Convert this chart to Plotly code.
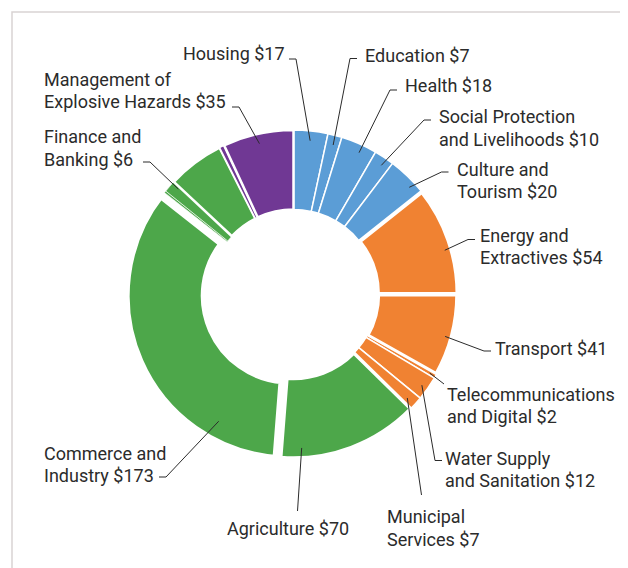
import math
import plotly.graph_objects as go

# ---------------- data ----------------
sectors = [
    "Housing", "Education", "Health", "Social Protection\nand Livelihoods",
    "Culture and\nTourism", "Energy and\nExtractives", "Transport",
    "Telecommunications\nand Digital", "Water Supply\nand Sanitation",
    "Municipal\nServices", "Agriculture", "Commerce and\nIndustry",
    "Unlabelled green (small)", "Finance and\nBanking", "Unlabelled green",
    "Unlabelled purple", "Management of\nExplosive Hazards",
]
values = [17, 7, 18, 10, 20, 54, 41, 2, 12, 7, 70, 173, 1, 6, 28, 2.5, 35]
groups = ["social", "social", "social", "social", "social",
          "infra", "infra", "infra", "infra", "infra",
          "productive", "productive", "productive", "productive", "productive",
          "cross", "cross"]
labelled = [True, True, True, True, True, True, True, True, True, True,
            True, True, False, True, False, False, True]

# ---------------- style / layout ----------------
WIN_W, WIN_H = 628, 568
OFF = 8                      # default page margin around the figure
W, H = WIN_W - OFF, WIN_H - OFF
CX, CY, R = 293.5, 294.0, 164.0
group_colors = {"social": "#5B9DD6", "infra": "#F08232",
                "productive": "#4DA74A", "cross": "#703894"}
line_widths = [1.5, 1.5, 1.5, 1.5, 1.5, 4, 4.5, 1.5, 1.5, 1.5,
               3.5, 8.5, 0.6, 0.6, 2.5, 1.5, 2.5]
pulls = [0, 0, 0, 0, 0, 0, 0, 0, 0, 0, 0, 0.027, 0, 0, 0, 0, 0]
TEXT = "#2b2b2b"
FONT = "Roboto"
FS = 18
LINE_H = 22.5

# label layout (window pixels): index -> (anchor side, text x, first-line y, elbow, tick end, pos in slice, radius frac)
label_layout = {
    0: ("right", 286, 53, (296, 59), (289, 59), 0.51, 0.94),
    1: ("left", 364, 55, (350, 58.5), (357, 58.5), 0.55, 0.94),
    2: ("left", 404, 86, (390, 90), (397, 90), 0.60, 0.95),
    3: ("left", 438, 116.5, (424, 120), (431, 120), 0.60, 0.95),
    4: ("left", 456, 169, (441.5, 172), (448.5, 172), 0.71, 0.96),
    5: ("left", 479, 235, (468, 239.5), (475, 239.5), 0.58, 0.96),
    6: ("left", 494, 348, (484, 351), (491, 351), 0.53, 0.96),
    7: ("left", 446, 394, (444, 384), None, 0.50, 0.96),
    8: ("left", 444, 458, (435, 460.5), (442, 460.5), 0.53, 0.96),
    9: ("left", 386, 516.5, (421.5, 495), None, 0.60, 0.94),
    10: ("center", 288, 528, (297.5, 511), None, 0.85, 0.94),
    11: ("left", 43, 453, (166, 477), (159, 477), 0.21, 0.90),
    13: ("left", 43, 137, (150, 162), (143, 162), 0.80, 0.95),
    16: ("left", 43, 79, (239, 107), (232, 107), 0.49, 0.94),
}


def px(x):
    return (x - OFF) / W


def py(y):
    return 1 - (y - OFF) / H


half = R * (1 + max(pulls))
domain_x = [px(CX - half), px(CX + half)]
domain_y = [py(CY + half), py(CY - half)]

fig = go.Figure(go.Pie(
    labels=[s.replace("\n", " ") for s in sectors],
    values=values,
    sort=False,
    direction="clockwise",
    rotation=0,
    hole=0.515,
    pull=pulls,
    textinfo="none",
    hoverinfo="label+value",
    marker=dict(colors=[group_colors[g] for g in groups],
                line=dict(color="white", width=line_widths)),
    domain=dict(x=domain_x, y=domain_y),
    showlegend=False,
))

total = sum(values)
cum = [0]
for v in values:
    cum.append(cum[-1] + v)

shapes = [dict(type="rect", xref="paper", yref="paper",
               x0=px(12), x1=px(WIN_W + 20), y0=py(WIN_H + 20), y1=py(12),
               line=dict(color="#d9d3d3", width=1.5), layer="below")]
annotations = []

for i, (name, v) in enumerate(zip(sectors, values)):
    if not labelled[i] or i not in label_layout:
        continue
    side, tx, ty, elbow, tick, frac, rf = label_layout[i]
    ang = (cum[i] + frac * v) / total * 2 * math.pi
    ax = CX + rf * R * math.sin(ang)
    ay = CY - rf * R * math.cos(ang)
    path = f"M {px(ax)},{py(ay)} L {px(elbow[0])},{py(elbow[1])}"
    if tick is not None:
        path += f" L {px(tick[0])},{py(tick[1])}"
    shapes.append(dict(type="path", xref="paper", yref="paper", path=path,
                       line=dict(color=TEXT, width=1)))
    vtxt = f"{v:g}"
    lines = name.split("\n")
    lines[-1] = lines[-1] + " $" + vtxt
    for k, ln in enumerate(lines):
        annotations.append(dict(
            text=ln, xref="paper", yref="paper",
            x=px(tx), y=py(ty + k * LINE_H),
            xanchor=side, yanchor="middle", showarrow=False,
            align="left", borderpad=0,
            font=dict(family=FONT, size=FS, color=TEXT)))

fig.update_layout(
    width=W, height=H,
    margin=dict(l=0, r=0, t=0, b=0),
    paper_bgcolor="white", plot_bgcolor="white",
    shapes=shapes, annotations=annotations,
)

fig.write_html("out.html")
